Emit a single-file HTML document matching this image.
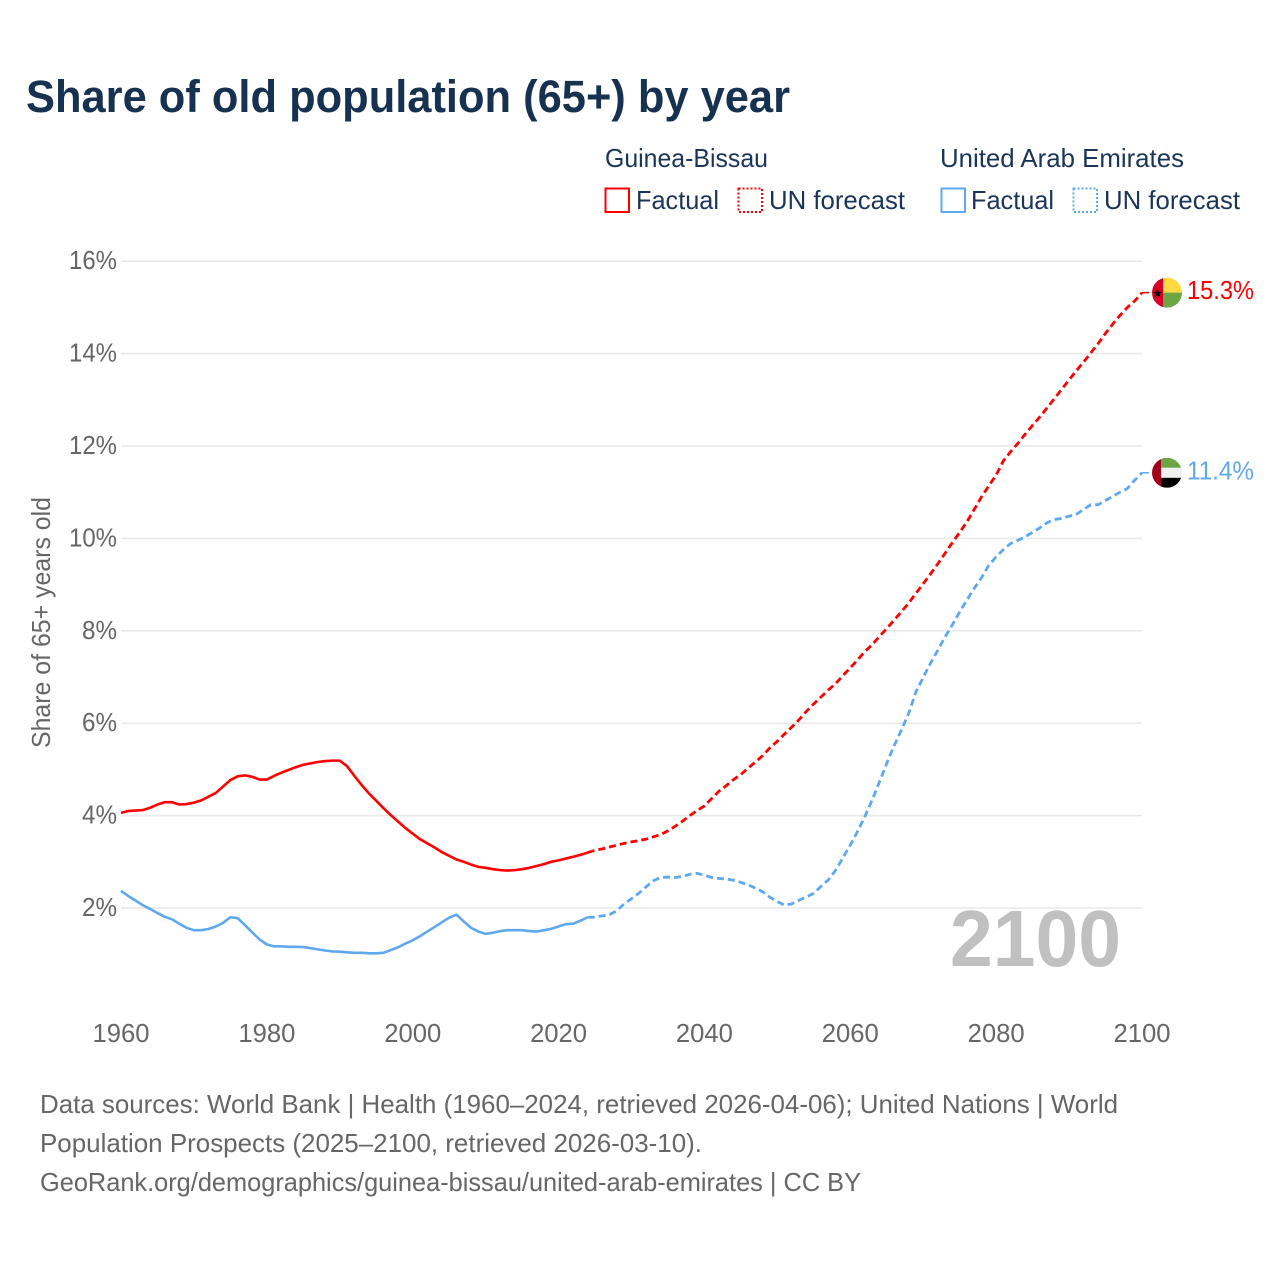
<!DOCTYPE html>
<html lang="en">
<head>
<meta charset="utf-8">
<title>Share of old population (65+) by year</title>
<style>
html,body{margin:0;padding:0;background:#fff;}
svg{display:block;font-family:"Liberation Sans",sans-serif;}
</style>
</head>
<body>
<svg id="chart" xmlns="http://www.w3.org/2000/svg" width="1280" height="1280" viewBox="0 0 1280 1280">
  <rect x="0" y="0" width="1280" height="1280" fill="#ffffff"/>
  <text x="26" y="112" font-size="45" font-weight="700" fill="#173250" textLength="764" lengthAdjust="spacingAndGlyphs">Share of old population (65+) by year</text>

  <g font-size="26" fill="#1a3557">
    <text x="605" y="167" textLength="163" lengthAdjust="spacingAndGlyphs">Guinea-Bissau</text>
    <text x="940" y="167" textLength="244" lengthAdjust="spacingAndGlyphs">United Arab Emirates</text>
    <rect x="605.5" y="188.5" width="23.5" height="23.5" fill="none" stroke="#ff0000" stroke-width="2"/>
    <text x="636" y="209" textLength="83" lengthAdjust="spacingAndGlyphs">Factual</text>
    <rect x="738.5" y="188.5" width="23.5" height="23.5" fill="none" stroke="#ff0000" stroke-width="2" stroke-dasharray="2 2"/>
    <text x="769" y="209" textLength="136" lengthAdjust="spacingAndGlyphs">UN forecast</text>
    <rect x="941.5" y="188.5" width="23.5" height="23.5" fill="none" stroke="#5fa8ee" stroke-width="2"/>
    <text x="971" y="209" textLength="83" lengthAdjust="spacingAndGlyphs">Factual</text>
    <rect x="1073.5" y="188.5" width="23.5" height="23.5" fill="none" stroke="#5fa8ee" stroke-width="2" stroke-dasharray="2 2"/>
    <text x="1104" y="209" textLength="136" lengthAdjust="spacingAndGlyphs">UN forecast</text>
  </g>

  <g id="grid"></g>
  <g id="yticks"></g>
  <g id="xticks"></g>

  <text transform="translate(50 748) rotate(-90)" font-size="26" fill="#666666" textLength="251" lengthAdjust="spacingAndGlyphs">Share of 65+ years old</text>

  <text x="950" y="966" font-size="80" font-weight="700" fill="#c0c0c0" textLength="171" lengthAdjust="spacingAndGlyphs">2100</text>

  <g id="series"></g>

  <g id="flag-gw">
    <clipPath id="clip-gw"><circle cx="0" cy="0" r="15"/></clipPath>
    <g clip-path="url(#clip-gw)">
      <rect x="-15" y="-15" width="11" height="30" fill="#d80027"/>
      <rect x="-4" y="-15" width="19" height="15" fill="#ffda44"/>
      <rect x="-4" y="0" width="19" height="15" fill="#6da544"/>
    </g>
    <polygon points="-9.5,-4 -8.2,-0.6 -4.8,-0.6 -7.5,1.4 -6.6,4.6 -9.5,2.7 -12.4,4.6 -11.5,1.4 -14.2,-0.6 -10.8,-0.6" fill="#000000"/>
  </g>
  <g id="flag-ae">
    <clipPath id="clip-ae"><circle cx="0" cy="0" r="15"/></clipPath>
    <g clip-path="url(#clip-ae)">
      <rect x="-6" y="-15" width="21" height="10" fill="#6da544"/>
      <rect x="-6" y="-5" width="21" height="10" fill="#f0f0f0"/>
      <rect x="-6" y="5" width="21" height="10" fill="#000000"/>
      <rect x="-15" y="-15" width="9" height="30" fill="#a2001d"/>
    </g>
  </g>
  <text id="label-gw" x="1187" font-size="26" fill="#ff0000" textLength="67" lengthAdjust="spacingAndGlyphs"></text>
  <text id="label-ae" x="1187" font-size="26" fill="#5fa8ee" textLength="67" lengthAdjust="spacingAndGlyphs"></text>

  <g font-size="26" fill="#666666">
    <text x="40" y="1113" textLength="1078" lengthAdjust="spacingAndGlyphs">Data sources: World Bank | Health (1960–2024, retrieved 2026-04-06); United Nations | World</text>
    <text x="40" y="1152" textLength="662" lengthAdjust="spacingAndGlyphs">Population Prospects (2025–2100, retrieved 2026-03-10).</text>
    <text x="40" y="1191" textLength="821" lengthAdjust="spacingAndGlyphs">GeoRank.org/demographics/guinea-bissau/united-arab-emirates | CC BY</text>
  </g>
</svg>
<script>
const firstYear = 1960;
const lastFactualYear = 2024;
const xTickYears = [1960, 1980, 2000, 2020, 2040, 2060, 2080, 2100];
const yTickValues = [2, 4, 6, 8, 10, 12, 14, 16];
const yTickSuffix = "%";
const guineaBissauValues = [
  4.06,4.10,4.11,4.12,4.17,4.24,4.29,4.29,4.24,4.25,4.28,4.33,4.41,4.49,4.63,4.77,4.85,4.87,4.84,4.78,
  4.78,4.86,4.93,4.99,5.05,5.10,5.13,5.16,5.18,5.19,5.19,5.07,4.86,4.66,4.48,4.32,4.16,4.01,3.87,3.73,
  3.61,3.49,3.40,3.31,3.21,3.13,3.05,3.00,2.94,2.89,2.87,2.84,2.82,2.81,2.82,2.84,2.87,2.91,2.95,3.00,
  3.03,3.07,3.11,3.15,3.20,3.25,3.28,3.32,3.36,3.40,3.43,3.46,3.49,3.54,3.59,3.67,3.77,3.88,4.00,4.11,
  4.21,4.37,4.53,4.65,4.78,4.89,5.03,5.16,5.30,5.47,5.61,5.77,5.92,6.08,6.26,6.42,6.57,6.72,6.86,7.03,
  7.20,7.37,7.55,7.70,7.88,8.05,8.23,8.41,8.60,8.81,9.02,9.23,9.45,9.68,9.91,10.13,10.36,10.63,10.90,11.14,
  11.37,11.68,11.88,12.06,12.26,12.45,12.63,12.83,13.03,13.23,13.43,13.63,13.82,14.02,14.22,14.44,14.64,14.83,15.00,15.14,
  15.32
];
const uaeValues = [
  2.37,2.26,2.16,2.06,1.98,1.89,1.81,1.755,1.66,1.57,1.52,1.52,1.545,1.60,1.68,1.80,1.78,1.63,1.47,1.32,
  1.21,1.17,1.17,1.16,1.16,1.155,1.13,1.105,1.08,1.06,1.055,1.04,1.03,1.03,1.02,1.02,1.03,1.09,1.15,1.23,
  1.30,1.39,1.49,1.59,1.69,1.79,1.855,1.71,1.57,1.49,1.44,1.465,1.50,1.52,1.52,1.52,1.50,1.49,1.52,1.55,
  1.60,1.65,1.66,1.725,1.80,1.80,1.83,1.86,1.94,2.09,2.20,2.32,2.46,2.59,2.66,2.67,2.66,2.68,2.73,2.75,
  2.71,2.66,2.64,2.63,2.60,2.555,2.50,2.43,2.35,2.23,2.14,2.06,2.09,2.17,2.24,2.32,2.47,2.61,2.82,3.09,
  3.36,3.66,3.98,4.34,4.73,5.13,5.51,5.85,6.21,6.68,6.99,7.30,7.58,7.87,8.13,8.41,8.67,8.92,9.15,9.42,
  9.60,9.76,9.89,9.96,10.04,10.13,10.23,10.34,10.41,10.43,10.48,10.52,10.63,10.73,10.73,10.82,10.91,11.00,11.08,11.26,
  11.42
];

const SVGNS = "http://www.w3.org/2000/svg";
function xScale(year) { return 121 + (year - 1960) * (1142 - 121) / 140; }
function yScale(value) { return 908 - (value - 2) * (908 - 261.2) / 14; }
function make(tag, attrs, parent) {
  const el = document.createElementNS(SVGNS, tag);
  for (const k in attrs) el.setAttribute(k, attrs[k]);
  parent.appendChild(el);
  return el;
}

const gridGroup = document.getElementById("grid");
const yTickGroup = document.getElementById("yticks");
const xTickGroup = document.getElementById("xticks");
const seriesGroup = document.getElementById("series");

yTickValues.forEach(function (v) {
  const line = make("line", { x1: 121, x2: 1142, y1: yScale(v), y2: yScale(v), stroke: "#e9e9e9", "stroke-width": 1.6 }, gridGroup);
  
  
  const text = v + yTickSuffix;
  const label = make("text", { x: 117, y: yScale(v) + 8, "text-anchor": "end", "font-size": 26, fill: "#666666", textLength: 9 + 13 * text.length, lengthAdjust: "spacingAndGlyphs" }, yTickGroup);
  
  
  label.textContent = text;
});

xTickYears.forEach(function (yr) {
  const label = make("text", { x: xScale(yr), y: 1042, "text-anchor": "middle", "font-size": 26, fill: "#666666", textLength: 57, lengthAdjust: "spacingAndGlyphs" }, xTickGroup);
  
  
  label.textContent = String(yr);
});

function linePoints(values, fromYear, toYear) {
  const pts = [];
  for (let yr = fromYear; yr <= toYear; yr++) {
    pts.push(xScale(yr).toFixed(2) + "," + yScale(values[yr - firstYear]).toFixed(2));
  }
  return pts.join(" ");
}

function drawSeries(values, color, flagId, labelId) {
  const endYear = firstYear + values.length - 1;
  const factual = make("polyline", { points: linePoints(values, firstYear, lastFactualYear), fill: "none", stroke: color, "stroke-width": 2.6, "stroke-linejoin": "round" }, seriesGroup);
  
  
  const forecast = make("polyline", { points: linePoints(values, lastFactualYear, endYear), fill: "none", stroke: color, "stroke-width": 2.8, "stroke-dasharray": "7 4", "stroke-linejoin": "round" }, seriesGroup);
  
  
  const lastValue = values[values.length - 1];
  const endY = yScale(lastValue);
  const leader = make("line", { x1: xScale(endYear), x2: xScale(endYear) + 7, y1: endY, y2: endY, stroke: color, "stroke-width": 1.5 }, seriesGroup);
  
  
  document.getElementById(flagId).setAttribute("transform", "translate(1167 " + endY + ")");
  const label = document.getElementById(labelId);
  label.setAttribute("y", endY + 6.5);
  label.textContent = lastValue.toFixed(1) + "%";
}

drawSeries(guineaBissauValues, "#ff0000", "flag-gw", "label-gw");
drawSeries(uaeValues, "#5fa8ee", "flag-ae", "label-ae");
</script>
</body>
</html>
